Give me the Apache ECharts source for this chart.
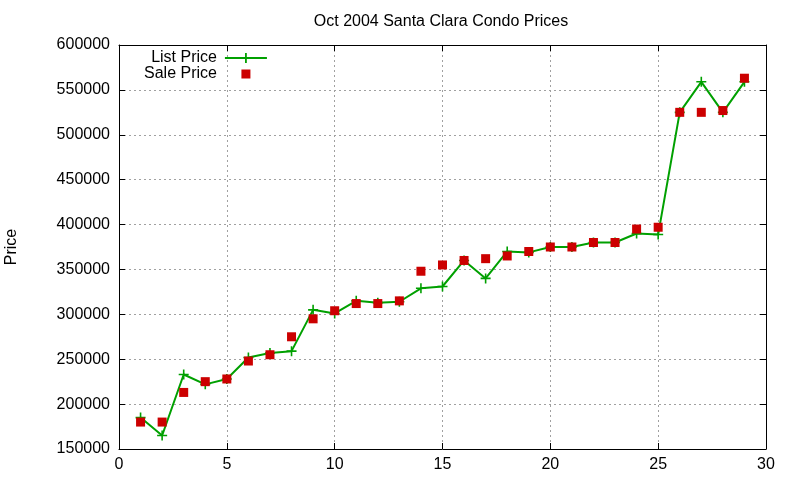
<!DOCTYPE html>
<html>
<head>
<meta charset="utf-8">
<script src="https://cdn.jsdelivr.net/npm/echarts@6/dist/echarts.min.js"></script>
<style>
  html, body { margin: 0; padding: 0; background: #fff; }
  #chart { width: 800px; height: 480px; }
</style>
</head>
<body>
<div id="chart"></div>
<script>
// data
var days = [1, 2, 3, 4, 5, 6, 7, 8, 9, 10, 11, 12, 13, 14, 15, 16, 17, 18, 19, 20, 21, 22, 23, 24, 25, 26, 27, 28, 29]
var listPrice = [185000, 165000, 233000, 222000, 228000, 252000, 257000, 259000, 305000, 301000, 315000, 313000, 314000, 329000, 331000, 360000, 340000, 370000, 369000, 375000, 375000, 380000, 380000, 390000, 389000, 525000, 559000, 525000, 559000]
var salePrice = [180000, 180000, 213000, 225000, 228000, 248000, 255000, 275000, 295000, 304000, 312000, 312000, 315000, 348000, 355000, 360000, 362000, 365000, 370000, 375000, 375000, 380000, 380000, 395000, 397000, 525000, 525000, 527000, 563000]
var xTicks = { min: 0, max: 30, step: 5 }
var yTicks = { min: 150000, max: 600000, step: 50000 }

var font = 'Liberation Sans, Arial, sans-serif'
var crossIcon = 'path://M4.2,0H5.8V4.2H10V5.8H5.8V10H4.2V5.8H0V4.2H4.2Z'
// legend icons: line with a cross, and a small square padded to the same width
var listKey = 'path://M0,4.1H20.1V0H21.9V4.1H42V5.9H21.9V10H20.1V5.9H0Z'
var saleKey = 'path://M0,5h0.01v0.01Z M16.5,0.5H25.5V9.5H16.5Z M42,5h-0.01v0.01Z'

function pairs(ys) {
  return days.map(function (d, i) { return [d, ys[i]] })
}

var myChart = echarts.init(document.getElementById('chart'))

var gridLine = { show: true, lineStyle: { color: '#a0a0a0', type: [2, 3], width: 1 } }
var frame = { show: true, onZero: false, lineStyle: { color: '#000', width: 1 } }
var tick = { show: true, inside: true, length: 6, lineStyle: { color: '#000' } }

var option = {
  animation: false,
  title: {
    text: 'Oct 2004 Santa Clara Condo Prices',
    left: 436,
    textAlign: 'center',
    top: 9,
    textStyle: { fontFamily: font, fontSize: 16, fontWeight: 'normal', color: '#000' }
  },
  legend: {
    orient: 'vertical',
    left: 144,
    top: 50,
    align: 'right',
    itemGap: 0,
    itemWidth: 42,
    itemHeight: 10,
    padding: 0,
    textStyle: { fontFamily: font, fontSize: 16, color: '#000', padding: [0, 3, 0, 0] },
    data: [
      { name: 'List Price', icon: listKey },
      { name: 'Sale Price', icon: saleKey }
    ]
  },
  grid: { left: 119, right: 34, top: 45, bottom: 31, outerBoundsMode: 'none' },
  xAxis: [
    {
      type: 'value',
      min: xTicks.min, max: xTicks.max, interval: xTicks.step,
      axisLine: frame, axisTick: tick, splitLine: gridLine,
      axisLabel: { fontFamily: font, fontSize: 16, color: '#000', margin: 8 }
    },
    {
      type: 'value', position: 'top',
      min: xTicks.min, max: xTicks.max, interval: xTicks.step,
      axisLine: frame, axisTick: tick, splitLine: { show: false },
      axisLabel: { show: false }
    }
  ],
  yAxis: [
    {
      type: 'value',
      min: yTicks.min, max: yTicks.max, interval: yTicks.step,
      name: 'Price', nameLocation: 'middle', nameGap: 99, nameRotate: 90,
      nameTextStyle: { fontFamily: font, fontSize: 16, color: '#000' },
      axisLine: frame, axisTick: tick, splitLine: gridLine,
      axisLabel: {
        fontFamily: font, fontSize: 16, color: '#000', margin: 9,
        formatter: function (v) { return String(v) }
      }
    },
    {
      type: 'value', position: 'right',
      min: yTicks.min, max: yTicks.max, interval: yTicks.step,
      axisLine: frame, axisTick: tick, splitLine: { show: false },
      axisLabel: { show: false }
    }
  ],
  series: [
    {
      name: 'List Price',
      type: 'line',
      data: pairs(listPrice),
      symbol: crossIcon,
      symbolSize: 10,
      showAllSymbol: true,
      lineStyle: { color: '#00a000', width: 2 },
      itemStyle: { color: '#00a000' },
      z: 2
    },
    {
      name: 'Sale Price',
      type: 'scatter',
      data: pairs(salePrice),
      symbol: 'rect',
      symbolSize: 9,
      itemStyle: { color: '#cc0000', opacity: 1 },
      z: 3
    }
  ]
}

window.onresize = myChart.resize
myChart.setOption(option)
</script>
</body>
</html>
